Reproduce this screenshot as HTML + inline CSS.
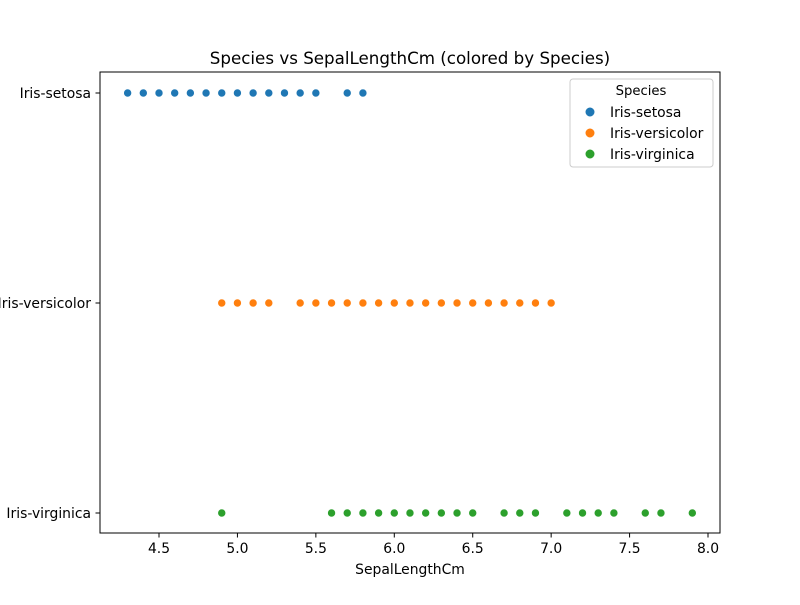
<!DOCTYPE html>
<html><head><meta charset="utf-8"><style>
body{margin:0;background:#fff;}
svg text{font-family:"DejaVu Sans","Liberation Sans",sans-serif;fill:#000;}
</style></head><body>
<svg id="chart" width="800" height="600" xmlns="http://www.w3.org/2000/svg">
<rect width="800" height="600" fill="#fff"/>
<text x="410" y="64" font-size="16.7" text-anchor="middle">Species vs SepalLengthCm (colored by Species)</text>
<g id="marks"></g>
<rect x="100" y="72" width="620" height="461" fill="none" stroke="#000" stroke-width="1"/>
<g id="xticks"></g>
<g id="yticks"></g>
<text x="410" y="574" font-size="13.9" text-anchor="middle">SepalLengthCm</text>
<g>
<rect x="570" y="79" width="143" height="88" rx="3" fill="#fff" stroke="#ccc"/>
<text x="641" y="95" font-size="13.2" text-anchor="middle">Species</text>
<g id="legend-entries"></g>
</g>
</svg>
<script>
const categories = ["Iris-setosa","Iris-versicolor","Iris-virginica"];
const colors = ["#1f77b4","#ff7f0e","#2ca02c"];
const setosaX = [4.3,4.4,4.5,4.6,4.7,4.8,4.9,5.0,5.1,5.2,5.3,5.4,5.5,5.7,5.8];
const versicolorX = [4.9,5.0,5.1,5.2,5.4,5.5,5.6,5.7,5.8,5.9,6.0,6.1,6.2,6.3,6.4,6.5,6.6,6.7,6.8,6.9,7.0];
const virginicaX = [4.9,5.6,5.7,5.8,5.9,6.0,6.1,6.2,6.3,6.4,6.5,6.7,6.8,6.9,7.1,7.2,7.3,7.4,7.6,7.7,7.9];
const xTickLabels = ["4.5","5.0","5.5","6.0","6.5","7.0","7.5","8.0"];
const series = [setosaX, versicolorX, virginicaX];
const NS = "http://www.w3.org/2000/svg";
function xScale(v){ return 159 + (v - 4.5) * 156.86; }
function yScale(i){ return 93 + i * 210; }
const marks = document.getElementById('marks');
series.forEach((arr, si) => {
  arr.forEach(v => {
    const c = document.createElementNS(NS, 'circle');
    c.setAttribute('cx', xScale(v)); c.setAttribute('cy', yScale(si));
    c.setAttribute('r', 4); c.setAttribute('fill', colors[si]);
    c.setAttribute('stroke', '#fff'); c.setAttribute('stroke-width', 0.6);
    
    
    marks.appendChild(c);
  });
});
const xt = document.getElementById('xticks');
xTickLabels.forEach(l => {
  const x = xScale(parseFloat(l));
  const ln = document.createElementNS(NS, 'line');
  ln.setAttribute('x1', x); ln.setAttribute('x2', x); ln.setAttribute('y1', 533); ln.setAttribute('y2', 537.5); ln.setAttribute('stroke', '#000');
  
  
  xt.appendChild(ln);
  const t = document.createElementNS(NS, 'text');
  t.setAttribute('x', x); t.setAttribute('y', 553); t.setAttribute('font-size', 13.9); t.setAttribute('text-anchor', 'middle');
  t.textContent = l;
  
  
  xt.appendChild(t);
});
const yt = document.getElementById('yticks');
categories.forEach((c, i) => {
  const y = yScale(i);
  const ln = document.createElementNS(NS, 'line');
  ln.setAttribute('x1', 95.5); ln.setAttribute('x2', 100); ln.setAttribute('y1', y); ln.setAttribute('y2', y); ln.setAttribute('stroke', '#000');
  
  
  yt.appendChild(ln);
  const t = document.createElementNS(NS, 'text');
  t.setAttribute('x', 91); t.setAttribute('y', y + 5); t.setAttribute('font-size', 13.9); t.setAttribute('text-anchor', 'end');
  t.textContent = c;
  
  
  yt.appendChild(t);
});
const le = document.getElementById('legend-entries');
categories.forEach((c, i) => {
  const y = 112 + i * 21;
  const m = document.createElementNS(NS, 'circle');
  m.setAttribute('cx', 590); m.setAttribute('cy', y); m.setAttribute('r', 4.8); m.setAttribute('fill', colors[i]);
  m.setAttribute('stroke', '#fff'); m.setAttribute('stroke-width', 0.6);
  
  
  le.appendChild(m);
  const t = document.createElementNS(NS, 'text');
  t.setAttribute('x', 610); t.setAttribute('y', y + 5); t.setAttribute('font-size', 13.9);
  t.textContent = c;
  
  
  le.appendChild(t);
});
</script>
</body></html>
